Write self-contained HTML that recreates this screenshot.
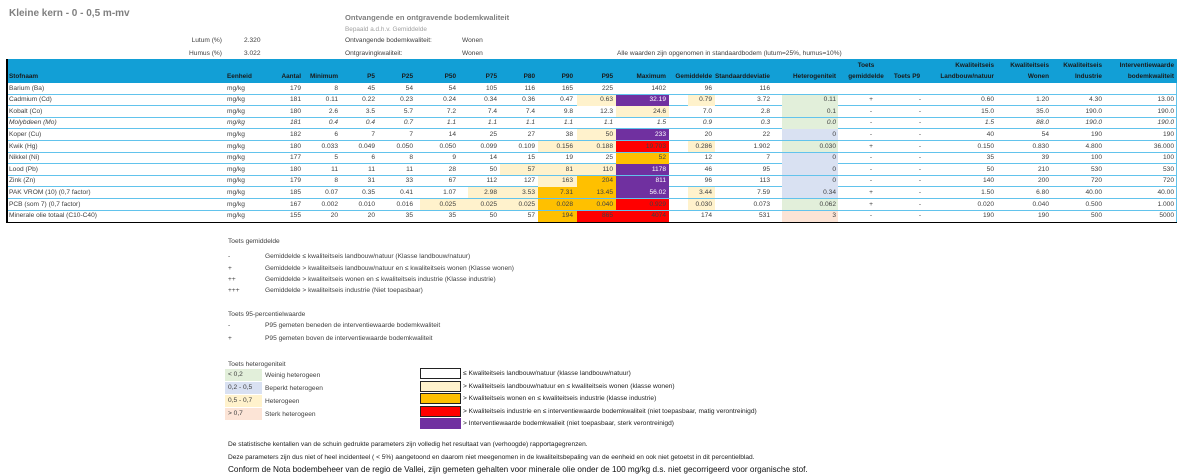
<!DOCTYPE html>
<html><head><meta charset="utf-8"><style>
*{margin:0;padding:0;box-sizing:border-box}
body{width:1177px;height:475px;background:#fff;position:relative;overflow:hidden;font-family:"Liberation Sans",sans-serif;font-size:6.6px;color:#404040}
.t{position:absolute;white-space:nowrap;line-height:8px}
.hd{position:absolute;left:6px;top:59px;width:1171px;height:24px;background:#129fd6}
.h{position:absolute;white-space:nowrap;font-weight:bold;color:#1a1a1a;font-size:6.4px;line-height:8px}
.r{position:absolute;left:6px;width:1171px;height:11.6px;border-bottom:1px solid #62c3ec}
.r span{position:absolute;top:1.6px;white-space:nowrap;line-height:8px;z-index:2}
.r .n{left:3px}.r .u{left:221px}
.a{right:876px}.mn{right:839px}.p5{right:802px}.p25{right:764px}.p50{right:721px}.p75{right:680px}.p80{right:642px}.p90{right:604px}.p95{right:564px}.mx{right:511px}.gm{right:465px}.sd{right:407px}.ht{right:341px}.tg{left:860px;width:10px;text-align:center}.tp{left:909px;width:10px;text-align:center}.kl{right:183px}.kw{right:128px}.ki{right:75px}.kv{right:3px}
.b{position:absolute;top:0;height:11px;z-index:1}
.B50{left:414px;width:48px}.B75{left:462px;width:32px}.B80{left:494px;width:38px}.B90{left:532px;width:39px}.B95{left:571px;width:39px}.BMX{left:610px;width:53px}.BGM{left:682px;width:27px}.BHT{left:776px;width:56px}
.y{background:#fff2cc}.o{background:#ffc000}.rd{background:#ff0000}.pu{background:#7030a0}.gr{background:#e2efda}.lv{background:#d9e1f2}.pk{background:#fce4d6}
.r span.w{color:#fff}
.i span{font-style:italic}
.lb{position:absolute;width:37px;height:12px}
.rb{position:absolute;left:420px;width:41px;height:11px;border:1px solid #222}
</style></head><body>
<div class="t" style="left:9px;top:8px;font-size:10px;font-weight:bold;color:#7f7f7f;line-height:12px">Kleine kern - 0 - 0,5 m-mv</div>
<div class="t" style="left:345px;top:14px;font-size:7.6px;font-weight:bold;color:#7f7f7f">Ontvangende en ontgravende bodemkwaliteit</div>
<div class="t" style="left:345px;top:26px;font-size:6.4px;color:#a0a0a0">Bepaald a.d.h.v. Gemiddelde</div>
<div class="t" style="left:190px;top:37px;width:32px;text-align:right">Lutum (%)</div>
<div class="t" style="left:244px;top:37px">2.320</div>
<div class="t" style="left:180px;top:50px;width:42px;text-align:right">Humus (%)</div>
<div class="t" style="left:244px;top:50px">3.022</div>
<div class="t" style="left:345px;top:37px">Ontvangende bodemkwaliteit:</div>
<div class="t" style="left:462px;top:37px">Wonen</div>
<div class="t" style="left:345px;top:50px">Ontgravingkwaliteit:</div>
<div class="t" style="left:462px;top:50px">Wonen</div>
<div class="t" style="left:617px;top:50px">Alle waarden zijn opgenomen in standaardbodem (lutum=25%, humus=10%)</div>

<div class="hd"></div>
<div style="position:absolute;left:6px;top:59px;width:1.5px;height:164px;background:#000;z-index:3"></div>
<div style="position:absolute;left:6px;top:221.5px;width:1171px;height:1.5px;background:#000;z-index:3"></div>
<div style="position:absolute;left:1175.5px;top:83px;width:1px;height:139px;background:#62c3ec"></div>
<div class="h" style="left:9px;top:73px">Stofnaam</div>
<div class="h" style="left:227px;top:73px">Eenheid</div>
<div class="h" style="right:876px;top:73px">Aantal</div>
<div class="h" style="right:839px;top:73px">Minimum</div>
<div class="h" style="right:802px;top:73px">P5</div>
<div class="h" style="right:764px;top:73px">P25</div>
<div class="h" style="right:721px;top:73px">P50</div>
<div class="h" style="right:680px;top:73px">P75</div>
<div class="h" style="right:642px;top:73px">P80</div>
<div class="h" style="right:604px;top:73px">P90</div>
<div class="h" style="right:564px;top:73px">P95</div>
<div class="h" style="right:511px;top:73px">Maximum</div>
<div class="h" style="right:465px;top:73px">Gemiddelde</div>
<div class="h" style="right:407px;top:73px">Standaarddeviatie</div>
<div class="h" style="right:341px;top:73px">Heterogeniteit</div>
<div class="h" style="left:844px;width:44px;text-align:center;top:62px">Toets</div>
<div class="h" style="left:844px;width:44px;text-align:center;top:73px">gemiddelde</div>
<div class="h" style="left:892px;width:30px;text-align:center;top:73px">Toets P9</div>
<div class="h" style="right:183px;top:62px">Kwaliteitseis</div>
<div class="h" style="right:183px;top:73px">Landbouw/natuur</div>
<div class="h" style="right:128px;top:62px">Kwaliteitseis</div>
<div class="h" style="right:128px;top:73px">Wonen</div>
<div class="h" style="right:75px;top:62px">Kwaliteitseis</div>
<div class="h" style="right:75px;top:73px">Industrie</div>
<div class="h" style="right:3px;top:62px">Interventiewaarde</div>
<div class="h" style="right:3px;top:73px">bodemkwaliteit</div>

<div class="r" style="top:83px"><span class="n">Barium (Ba)</span><span class="u">mg/kg</span><span class="a">179</span><span class="mn">8</span><span class="p5">45</span><span class="p25">54</span><span class="p50">54</span><span class="p75">105</span><span class="p80">116</span><span class="p90">165</span><span class="p95">225</span><span class="mx">1402</span><span class="gm">96</span><span class="sd">116</span></div>

<div class="r" style="top:94.6px"><div class="b B95 y"></div><div class="b BMX pu"></div><div class="b BGM y"></div><div class="b BHT gr"></div><span class="n">Cadmium (Cd)</span><span class="u">mg/kg</span><span class="a">181</span><span class="mn">0.11</span><span class="p5">0.22</span><span class="p25">0.23</span><span class="p50">0.24</span><span class="p75">0.34</span><span class="p80">0.36</span><span class="p90">0.47</span><span class="p95">0.63</span><span class="mx w">32.19</span><span class="gm">0.79</span><span class="sd">3.72</span><span class="ht">0.11</span><span class="tg">+</span><span class="tp">-</span><span class="kl">0.60</span><span class="kw">1.20</span><span class="ki">4.30</span><span class="kv">13.00</span></div>

<div class="r" style="top:106.2px"><div class="b BMX y"></div><div class="b BHT gr"></div><span class="n">Kobalt (Co)</span><span class="u">mg/kg</span><span class="a">180</span><span class="mn">2.6</span><span class="p5">3.5</span><span class="p25">5.7</span><span class="p50">7.2</span><span class="p75">7.4</span><span class="p80">7.4</span><span class="p90">9.8</span><span class="p95">12.3</span><span class="mx">24.6</span><span class="gm">7.0</span><span class="sd">2.8</span><span class="ht">0.1</span><span class="tg">-</span><span class="tp">-</span><span class="kl">15.0</span><span class="kw">35.0</span><span class="ki">190.0</span><span class="kv">190.0</span></div>

<div class="r i" style="top:117.8px"><div class="b BHT gr"></div><span class="n">Molybdeen (Mo)</span><span class="u">mg/kg</span><span class="a">181</span><span class="mn">0.4</span><span class="p5">0.4</span><span class="p25">0.7</span><span class="p50">1.1</span><span class="p75">1.1</span><span class="p80">1.1</span><span class="p90">1.1</span><span class="p95">1.1</span><span class="mx">1.5</span><span class="gm">0.9</span><span class="sd">0.3</span><span class="ht">0.0</span><span class="tg">-</span><span class="tp">-</span><span class="kl">1.5</span><span class="kw">88.0</span><span class="ki">190.0</span><span class="kv">190.0</span></div>

<div class="r" style="top:129.4px"><div class="b B95 y"></div><div class="b BMX pu"></div><div class="b BHT lv"></div><span class="n">Koper (Cu)</span><span class="u">mg/kg</span><span class="a">182</span><span class="mn">6</span><span class="p5">7</span><span class="p25">7</span><span class="p50">14</span><span class="p75">25</span><span class="p80">27</span><span class="p90">38</span><span class="p95">50</span><span class="mx w">233</span><span class="gm">20</span><span class="sd">22</span><span class="ht">0</span><span class="tg">-</span><span class="tp">-</span><span class="kl">40</span><span class="kw">54</span><span class="ki">190</span><span class="kv">190</span></div>

<div class="r" style="top:141px"><div class="b B90 y"></div><div class="b B95 y"></div><div class="b BMX rd"></div><div class="b BGM y"></div><div class="b BHT gr"></div><span class="n">Kwik (Hg)</span><span class="u">mg/kg</span><span class="a">180</span><span class="mn">0.033</span><span class="p5">0.049</span><span class="p25">0.050</span><span class="p50">0.050</span><span class="p75">0.099</span><span class="p80">0.109</span><span class="p90">0.156</span><span class="p95">0.188</span><span class="mx">19.703</span><span class="gm">0.286</span><span class="sd">1.902</span><span class="ht">0.030</span><span class="tg">+</span><span class="tp">-</span><span class="kl">0.150</span><span class="kw">0.830</span><span class="ki">4.800</span><span class="kv">36.000</span></div>

<div class="r" style="top:152.6px"><div class="b BMX o"></div><div class="b BHT lv"></div><span class="n">Nikkel (Ni)</span><span class="u">mg/kg</span><span class="a">177</span><span class="mn">5</span><span class="p5">6</span><span class="p25">8</span><span class="p50">9</span><span class="p75">14</span><span class="p80">15</span><span class="p90">19</span><span class="p95">25</span><span class="mx">52</span><span class="gm">12</span><span class="sd">7</span><span class="ht">0</span><span class="tg">-</span><span class="tp">-</span><span class="kl">35</span><span class="kw">39</span><span class="ki">100</span><span class="kv">100</span></div>

<div class="r" style="top:164.2px"><div class="b B80 y"></div><div class="b B90 y"></div><div class="b B95 y"></div><div class="b BMX pu"></div><div class="b BHT lv"></div><span class="n">Lood (Pb)</span><span class="u">mg/kg</span><span class="a">180</span><span class="mn">11</span><span class="p5">11</span><span class="p25">11</span><span class="p50">28</span><span class="p75">50</span><span class="p80">57</span><span class="p90">81</span><span class="p95">110</span><span class="mx w">1178</span><span class="gm">46</span><span class="sd">95</span><span class="ht">0</span><span class="tg">-</span><span class="tp">-</span><span class="kl">50</span><span class="kw">210</span><span class="ki">530</span><span class="kv">530</span></div>

<div class="r" style="top:175.8px"><div class="b B90 y"></div><div class="b B95 o"></div><div class="b BMX pu"></div><div class="b BHT lv"></div><span class="n">Zink (Zn)</span><span class="u">mg/kg</span><span class="a">179</span><span class="mn">8</span><span class="p5">31</span><span class="p25">33</span><span class="p50">67</span><span class="p75">112</span><span class="p80">127</span><span class="p90">163</span><span class="p95">204</span><span class="mx w">811</span><span class="gm">96</span><span class="sd">113</span><span class="ht">0</span><span class="tg">-</span><span class="tp">-</span><span class="kl">140</span><span class="kw">200</span><span class="ki">720</span><span class="kv">720</span></div>

<div class="r" style="top:187.4px"><div class="b B75 y"></div><div class="b B80 y"></div><div class="b B90 o"></div><div class="b B95 o"></div><div class="b BMX pu"></div><div class="b BGM y"></div><div class="b BHT lv"></div><span class="n">PAK VROM (10) (0,7 factor)</span><span class="u">mg/kg</span><span class="a">185</span><span class="mn">0.07</span><span class="p5">0.35</span><span class="p25">0.41</span><span class="p50">1.07</span><span class="p75">2.98</span><span class="p80">3.53</span><span class="p90">7.31</span><span class="p95">13.45</span><span class="mx w">56.02</span><span class="gm">3.44</span><span class="sd">7.59</span><span class="ht">0.34</span><span class="tg">+</span><span class="tp">-</span><span class="kl">1.50</span><span class="kw">6.80</span><span class="ki">40.00</span><span class="kv">40.00</span></div>

<div class="r" style="top:199px"><div class="b B50 y"></div><div class="b B75 y"></div><div class="b B80 y"></div><div class="b B90 o"></div><div class="b B95 o"></div><div class="b BMX rd"></div><div class="b BGM y"></div><div class="b BHT gr"></div><span class="n">PCB (som 7) (0,7 factor)</span><span class="u">mg/kg</span><span class="a">167</span><span class="mn">0.002</span><span class="p5">0.010</span><span class="p25">0.016</span><span class="p50">0.025</span><span class="p75">0.025</span><span class="p80">0.025</span><span class="p90">0.028</span><span class="p95">0.040</span><span class="mx">0.929</span><span class="gm">0.030</span><span class="sd">0.073</span><span class="ht">0.062</span><span class="tg">+</span><span class="tp">-</span><span class="kl">0.020</span><span class="kw">0.040</span><span class="ki">0.500</span><span class="kv">1.000</span></div>

<div class="r" style="top:210.6px;border-bottom:none"><div class="b B90 o"></div><div class="b B95 rd"></div><div class="b BMX rd"></div><div class="b BHT pk"></div><span class="n">Minerale olie totaal (C10-C40)</span><span class="u">mg/kg</span><span class="a">155</span><span class="mn">20</span><span class="p5">20</span><span class="p25">35</span><span class="p50">35</span><span class="p75">50</span><span class="p80">57</span><span class="p90">194</span><span class="p95">865</span><span class="mx">4074</span><span class="gm">174</span><span class="sd">531</span><span class="ht">3</span><span class="tg">-</span><span class="tp">-</span><span class="kl">190</span><span class="kw">190</span><span class="ki">500</span><span class="kv">5000</span></div>

<div class="t" style="left:228px;top:238px">Toets gemiddelde</div>
<div class="t" style="left:228px;top:253px">-</div><div class="t" style="left:265px;top:253px">Gemiddelde ≤ kwaliteitseis landbouw/natuur (Klasse landbouw/natuur)</div>
<div class="t" style="left:228px;top:265px">+</div><div class="t" style="left:265px;top:265px">Gemiddelde &gt; kwaliteitseis landbouw/natuur en ≤ kwaliteitseis wonen (Klasse wonen)</div>
<div class="t" style="left:228px;top:276px">++</div><div class="t" style="left:265px;top:276px">Gemiddelde &gt; kwaliteitseis wonen en ≤ kwaliteitseis industrie (Klasse industrie)</div>
<div class="t" style="left:228px;top:287px">+++</div><div class="t" style="left:265px;top:287px">Gemiddelde &gt; kwaliteitseis industrie (Niet toepasbaar)</div>
<div class="t" style="left:228px;top:311px">Toets 95-percentielwaarde</div>
<div class="t" style="left:228px;top:322px">-</div><div class="t" style="left:265px;top:322px">P95 gemeten beneden de interventiewaarde bodemkwaliteit</div>
<div class="t" style="left:228px;top:335px">+</div><div class="t" style="left:265px;top:335px">P95 gemeten boven de interventiewaarde bodemkwaliteit</div>

<div class="t" style="left:228px;top:361px">Toets heterogeniteit</div>
<div class="lb gr" style="left:225px;top:369px"></div><div class="t" style="left:228px;top:371px">&lt; 0,2</div><div class="t" style="left:265px;top:372px">Weinig heterogeen</div>
<div class="lb lv" style="left:225px;top:382px"></div><div class="t" style="left:228px;top:384px">0,2 - 0,5</div><div class="t" style="left:265px;top:385px">Beperkt heterogeen</div>
<div class="lb y" style="left:225px;top:395px"></div><div class="t" style="left:228px;top:397px">0,5 - 0,7</div><div class="t" style="left:265px;top:398px">Heterogeen</div>
<div class="lb pk" style="left:225px;top:408px"></div><div class="t" style="left:228px;top:410px">&gt; 0,7</div><div class="t" style="left:265px;top:411px">Sterk heterogeen</div>

<div class="rb" style="top:368px;background:#fff"></div><div class="t" style="left:463px;top:370px;color:#222">≤ Kwaliteitseis landbouw/natuur (klasse landbouw/natuur)</div>
<div class="rb y" style="top:381px"></div><div class="t" style="left:463px;top:383px;color:#222">&gt; Kwaliteitseis landbouw/natuur en ≤ kwaliteitseis wonen (klasse wonen)</div>
<div class="rb o" style="top:393px"></div><div class="t" style="left:463px;top:395px;color:#222">&gt; Kwaliteitseis wonen en ≤ kwaliteitseis industrie (klasse industrie)</div>
<div class="rb rd" style="top:406px"></div><div class="t" style="left:463px;top:408px;color:#222">&gt; Kwaliteitseis industrie en ≤ interventiewaarde bodemkwaliteit (niet toepasbaar, matig verontreinigd)</div>
<div class="rb pu" style="top:418px;border-color:#7030a0"></div><div class="t" style="left:463px;top:420px;color:#222">&gt; Interventiewaarde bodemkwalieit (niet toepasbaar, sterk verontreinigd)</div>

<div class="t" style="left:228px;top:441px;color:#222">De statistische kentallen van de schuin gedrukte parameters zijn volledig het resultaat van (verhoogde) rapportagegrenzen.</div>
<div class="t" style="left:228px;top:454px;color:#222">Deze parameters zijn dus niet of heel incidenteel ( &lt; 5%) aangetoond en daarom niet meegenomen in de kwaliteitsbepaling van de eenheid en ook niet getoetst in dit percentielblad.</div>
<div class="t" style="left:228px;top:465px;color:#111;font-size:8.2px;line-height:10px">Conform de Nota bodembeheer van de regio de Vallei, zijn gemeten gehalten voor minerale olie onder de 100 mg/kg d.s. niet gecorrigeerd voor organische stof.</div>
</body></html>
